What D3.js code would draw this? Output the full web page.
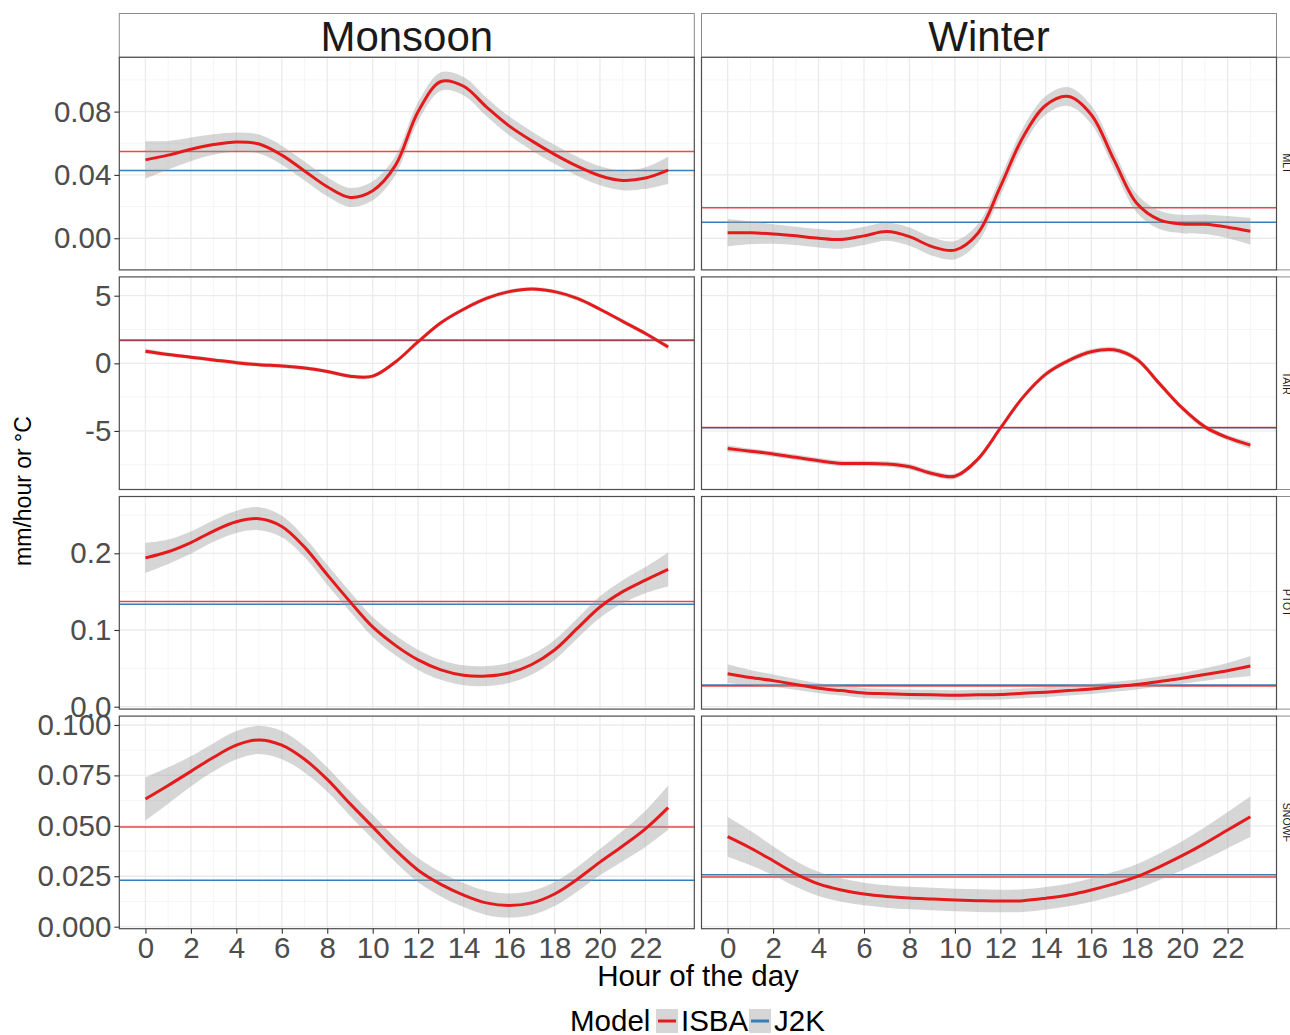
<!DOCTYPE html>
<html>
<head>
<meta charset="utf-8">
<script src="https://cdn.jsdelivr.net/npm/d3@7"></script>
<style>
  body { margin: 0; background: #fff; }
  svg { display: block; font-family: "Liberation Sans", Arial, sans-serif; }
</style>
</head>
<body>
<svg id="chart" width="1290" height="1035"></svg>
<script>
// ---- data ----
const seasons = ['Monsoon', 'Winter'];
const variables = ['MLT', 'TAIR', 'PTOT', 'SNOWF'];
const hours = [0,1,2,3,4,5,6,7,8,9,10,11,12,13,14,15,16,17,18,19,20,21,22,23];
const xTicks = [0,2,4,6,8,10,12,14,16,18,20,22];
const xMinor = [1,3,5,7,9,11,13,15,17,19,21,23];

// smoothed ISBA curve (fit) and ribbon half width, per hour
const mltMonsoonFit = [0.0495,0.0525,0.0562,0.0592,0.0608,0.0595,0.0525,0.0425,0.0325,0.0258,0.0300,0.0460,0.0800,0.0990,0.0960,0.0830,0.0710,0.0615,0.0530,0.0455,0.0395,0.0365,0.0380,0.0430];
const mltMonsoonSe  = [0.0118,0.009,0.0075,0.0065,0.006,0.006,0.006,0.006,0.006,0.006,0.006,0.006,0.006,0.0058,0.0058,0.0058,0.006,0.006,0.006,0.006,0.006,0.0062,0.0068,0.0085];
const mltWinterFit  = [0.0035,0.0034,0.0027,0.0015,0.0,-0.0008,0.0015,0.0042,0.001,-0.0053,-0.0075,0.003,0.0326,0.064,0.084,0.0895,0.078,0.0495,0.0221,0.0116,0.009,0.0088,0.007,0.0044];
const mltWinterSe   = [0.0086,0.0072,0.0062,0.0058,0.0058,0.0058,0.0058,0.0058,0.0058,0.0058,0.0058,0.0058,0.0058,0.0058,0.0058,0.0059,0.0058,0.0058,0.0058,0.0058,0.0058,0.0062,0.007,0.0084];
const tairMonsoonFit = [0.9,0.65,0.45,0.25,0.05,-0.1,-0.2,-0.35,-0.6,-0.95,-0.95,0.1,1.6,3.0,4.0,4.8,5.3,5.5,5.3,4.8,4.0,3.1,2.2,1.2];
const tairMonsoonSe  = [0.2,0.15,0.15,0.15,0.15,0.15,0.15,0.15,0.15,0.15,0.15,0.15,0.15,0.15,0.15,0.15,0.15,0.15,0.15,0.15,0.15,0.15,0.15,0.2];
const tairWinterFit  = [-6.3,-6.5,-6.7,-6.95,-7.2,-7.4,-7.4,-7.45,-7.65,-8.15,-8.35,-7.1,-4.8,-2.5,-0.8,0.2,0.85,1.0,0.3,-1.5,-3.3,-4.7,-5.5,-6.05];
const tairWinterSe   = [0.25,0.2,0.2,0.2,0.2,0.2,0.2,0.2,0.2,0.2,0.2,0.2,0.2,0.2,0.2,0.2,0.2,0.2,0.2,0.2,0.2,0.2,0.2,0.25];
const ptotMonsoonFit = [0.194,0.202,0.214,0.229,0.241,0.245,0.235,0.208,0.172,0.137,0.104,0.080,0.061,0.048,0.041,0.040,0.044,0.055,0.074,0.102,0.130,0.150,0.165,0.179];
const ptotMonsoonSe  = [0.0196,0.016,0.0145,0.014,0.0145,0.015,0.014,0.013,0.013,0.013,0.013,0.013,0.013,0.013,0.013,0.013,0.013,0.013,0.013,0.013,0.014,0.015,0.017,0.022];
const ptotWinterFit  = [0.043,0.038,0.034,0.029,0.024,0.021,0.018,0.017,0.016,0.0155,0.015,0.0155,0.016,0.0175,0.019,0.021,0.023,0.026,0.029,0.033,0.037,0.042,0.047,0.053];
const ptotWinterSe   = [0.0125,0.01,0.008,0.007,0.0065,0.0065,0.0065,0.0065,0.0065,0.0065,0.0065,0.0065,0.0065,0.0065,0.0065,0.0065,0.0065,0.0065,0.0065,0.0065,0.007,0.008,0.01,0.013];
const snowfMonsoonFit = [0.0633,0.070,0.077,0.084,0.090,0.0926,0.090,0.083,0.073,0.061,0.0495,0.038,0.028,0.021,0.0157,0.0118,0.0105,0.0118,0.0162,0.0235,0.032,0.040,0.0485,0.059];
const snowfMonsoonSe  = [0.0107,0.009,0.0075,0.007,0.007,0.007,0.007,0.0065,0.006,0.006,0.006,0.006,0.006,0.006,0.006,0.006,0.006,0.006,0.006,0.006,0.0065,0.0075,0.009,0.011];
const snowfWinterFit  = [0.0446,0.039,0.0327,0.0262,0.0212,0.0182,0.0162,0.015,0.0142,0.0137,0.0132,0.0129,0.0127,0.0129,0.0141,0.0157,0.0182,0.0212,0.0248,0.0297,0.0352,0.0413,0.0479,0.0545];
const snowfWinterSe   = [0.0099,0.0085,0.0072,0.0064,0.006,0.0058,0.0056,0.0056,0.0056,0.0056,0.0056,0.0056,0.0056,0.0056,0.0056,0.0056,0.0058,0.006,0.0062,0.0066,0.0072,0.008,0.009,0.0101];

// overall means drawn as horizontal lines: [Monsoon, Winter]
const mltIsba = [0.0548, 0.0193],   mltJ2k = [0.0428, 0.0101];
const tairIsba = [1.72, -4.74],     tairJ2k = [1.69, -4.76];
const ptotIsba = [0.137, 0.027],    ptotJ2k = [0.1334, 0.0283];
const snowfIsba = [0.0494, 0.0246], snowfJ2k = [0.023, 0.0258];

// y ticks per row
const mltTicks = [0, 0.04, 0.08];
const tairTicks = [-5, 0, 5];
const ptotTicks = [0, 0.1, 0.2];
const snowfTicks = [0, 0.025, 0.05, 0.075, 0.1];

const fits = [[mltMonsoonFit, mltWinterFit], [tairMonsoonFit, tairWinterFit], [ptotMonsoonFit, ptotWinterFit], [snowfMonsoonFit, snowfWinterFit]];
const ses = [[mltMonsoonSe, mltWinterSe], [tairMonsoonSe, tairWinterSe], [ptotMonsoonSe, ptotWinterSe], [snowfMonsoonSe, snowfWinterSe]];
const isba = [mltIsba, tairIsba, ptotIsba, snowfIsba];
const j2k = [mltJ2k, tairJ2k, ptotJ2k, snowfJ2k];
const yTicks = [mltTicks, tairTicks, ptotTicks, snowfTicks];
// R prints a plain hyphen for negatives
const fmt = f => (d => d3.format(f)(d).replace('\u2212', '-'));
const yFormat = [fmt('.2f'), fmt('d'), fmt('.1f'), fmt('.3f')];

// ---- layout ----
const panelX = [119.3, 701.5];
const panelW = 575;
const rowTop = [57.3, 276.9, 496.5, 716.1];
const rowH = 212.6;
const yDomains = [[-0.02, 0.1143], [-9.33, 6.39], [-0.0031, 0.274], [-0.001, 0.1044]];

const red = '#e41a1c', blue = '#377eb8';
const tickColor = '#4d4d4d';
const tickFont = 29.5;

const svg = d3.select('#chart');

const x = d3.scaleLinear().domain([-1.15, 24.15]).range([0, panelW]);

// strips on top
seasons.forEach((s, c) => {
  const g = svg.append('g').attr('transform', `translate(${panelX[c]},13.5)`);
  g.append('rect').attr('width', panelW).attr('height', 43.8)
    .attr('fill', '#fff').attr('stroke', '#8c8c8c').attr('stroke-width', 1);
  g.append('text').attr('x', panelW / 2).attr('y', 37)
    .attr('text-anchor', 'middle').attr('font-size', 42).attr('fill', '#1a1a1a').text(s);
});

variables.forEach((v, r) => {
  const y = d3.scaleLinear().domain(yDomains[r]).range([rowH, 0]);
  const ticks = yTicks[r];
  const step = ticks[1] - ticks[0];
  const minor = ticks.map(t => t + step / 2).concat([ticks[0] - step / 2])
    .filter(t => t > yDomains[r][0] && t < yDomains[r][1]);

  // right strip (cut by the page edge)
  const sg = svg.append('g').attr('transform', `translate(1276.5,${rowTop[r]})`);
  sg.append('rect').attr('width', 30).attr('height', rowH)
    .attr('fill', '#fff').attr('stroke', '#8c8c8c');
  sg.append('text').attr('transform', `translate(6,${rowH / 2}) rotate(90)`)
    .attr('text-anchor', 'middle').attr('font-size', 10.5).attr('fill', '#1a1a1a').text(v);

  seasons.forEach((s, c) => {
    const g = svg.append('g').attr('transform', `translate(${panelX[c]},${rowTop[r]})`);
    g.append('rect').attr('width', panelW).attr('height', rowH).attr('fill', '#fff');

    // grid
    g.selectAll('.vminor').data(xMinor).join('line')
      .attr('x1', d => x(d)).attr('x2', d => x(d)).attr('y1', 0).attr('y2', rowH)
      .attr('stroke', '#f2f2f2').attr('stroke-width', 0.8);
    g.selectAll('.hminor').data(minor).join('line')
      .attr('x1', 0).attr('x2', panelW).attr('y1', d => y(d)).attr('y2', d => y(d))
      .attr('stroke', '#f2f2f2').attr('stroke-width', 0.8);
    g.selectAll('.vmajor').data(xTicks).join('line')
      .attr('x1', d => x(d)).attr('x2', d => x(d)).attr('y1', 0).attr('y2', rowH)
      .attr('stroke', '#ebebeb').attr('stroke-width', 1.3);
    g.selectAll('.hmajor').data(ticks).join('line')
      .attr('x1', 0).attr('x2', panelW).attr('y1', d => y(d)).attr('y2', d => y(d))
      .attr('stroke', '#ebebeb').attr('stroke-width', 1.3);

    const fit = fits[r][c], se = ses[r][c];
    const pts = hours.map((h, i) => ({ h: h, f: fit[i], lo: fit[i] - se[i], hi: fit[i] + se[i] }));

    const area = d3.area().x(d => x(d.h)).y0(d => y(d.lo)).y1(d => y(d.hi)).curve(d3.curveCatmullRom);
    const line = d3.line().x(d => x(d.h)).y(d => y(d.f)).curve(d3.curveCatmullRom);

    // mean lines
    g.append('line').attr('x1', 0).attr('x2', panelW)
      .attr('y1', y(j2k[r][c])).attr('y2', y(j2k[r][c]))
      .attr('stroke', blue).attr('stroke-width', 1.5);
    g.append('line').attr('x1', 0).attr('x2', panelW)
      .attr('y1', y(isba[r][c])).attr('y2', y(isba[r][c]))
      .attr('stroke', red).attr('stroke-opacity', 0.8).attr('stroke-width', 1.5);

    g.append('path').datum(pts).attr('d', area).attr('fill', '#999').attr('fill-opacity', 0.4);
    g.append('path').datum(pts).attr('d', line).attr('fill', 'none')
      .attr('stroke', red).attr('stroke-width', 3);

    g.append('rect').attr('width', panelW).attr('height', rowH)
      .attr('fill', 'none').attr('stroke', '#4d4d4d').attr('stroke-width', 1.2);

    if (c == 0) {
      const yAxis = d3.axisLeft(y).tickValues(ticks).tickFormat(yFormat[r]).tickSize(5).tickPadding(3);
      const ag = g.append('g').call(yAxis);
      ag.select('.domain').remove();
      ag.selectAll('line').attr('stroke', '#333').attr('stroke-width', 1.1);
      ag.selectAll('text').attr('font-size', tickFont).attr('fill', tickColor)
        .attr('font-family', '"Liberation Sans", Arial, sans-serif');
    }
    if (r == variables.length - 1) {
      const xAxis = d3.axisBottom(x).tickValues(xTicks).tickSize(5).tickPadding(3);
      const ag = g.append('g').attr('transform', `translate(0,${rowH})`).call(xAxis);
      ag.select('.domain').remove();
      ag.selectAll('line').attr('stroke', '#333').attr('stroke-width', 1.1);
      ag.selectAll('text').attr('font-size', tickFont).attr('fill', tickColor)
        .attr('font-family', '"Liberation Sans", Arial, sans-serif');
    }
  });
});

// axis titles
svg.append('text').attr('x', 698).attr('y', 986).attr('text-anchor', 'middle')
  .attr('font-size', 29.5).attr('fill', '#000').text('Hour of the day');
svg.append('text').attr('transform', 'translate(31,491) rotate(-90)').attr('text-anchor', 'middle')
  .attr('font-size', 23).attr('fill', '#000').text('mm/hour or °C');

// legend
const legend = svg.append('g');
legend.append('text').attr('x', 570).attr('y', 1031).attr('font-size', 29.5).attr('fill', '#000').text('Model');
const legendItems = [{ name: 'ISBA', color: red, x: 656 }, { name: 'J2K', color: blue, x: 749 }];
legendItems.forEach(d => {
  legend.append('rect').attr('x', d.x).attr('y', 1009).attr('width', 22).attr('height', 24)
    .attr('fill', '#999').attr('fill-opacity', 0.4);
  legend.append('line').attr('x1', d.x + 2).attr('x2', d.x + 20).attr('y1', 1021).attr('y2', 1021)
    .attr('stroke', d.color).attr('stroke-width', 3);
  legend.append('text').attr('x', d.x + 25).attr('y', 1031).attr('font-size', 29.5).attr('fill', '#000').text(d.name);
});
</script>
</body>
</html>
